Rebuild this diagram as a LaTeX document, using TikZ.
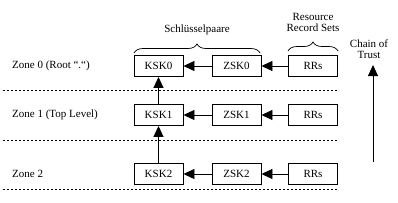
\documentclass[tikz,border=0pt]{standalone}
\usepackage{fontspec}
\setmainfont{Liberation Serif}
\usetikzlibrary{arrows.meta,decorations.pathreplacing}
\begin{document}
\begin{tikzpicture}[x=1pt,y=-1pt,
  keybox/.style={draw,line width=0.9pt,minimum width=49pt,minimum height=21pt,inner sep=0pt,font=\fontsize{11}{12}\selectfont},
  lbl/.style={inner sep=0pt,font=\fontsize{11}{12}\selectfont},
  arr/.style={line width=0.9pt,-{Triangle[length=11pt,width=10pt]}},
  sep/.style={dashed,dash pattern=on 2pt off 2pt,line width=0.7pt},
  brc/.style={decorate,decoration={brace,amplitude=9pt},line width=0.7pt}]
\useasboundingbox (0,0) rectangle (398,202);
% zone labels
\node[lbl,anchor=west] (z0) at (12,66) {Zone 0 (Root “.“)};
\node[lbl,anchor=west] (z1) at (12,115) {Zone 1 (Top Level)};
\node[lbl,anchor=west] (z2) at (12,174) {Zone 2};
% boxes
\node[keybox] (ksk0) at (158.5,66) {KSK0};
\node[keybox] (zsk0) at (236.5,66) {ZSK0};
\node[keybox] (rr0) at (313,66) {RRs};
\node[keybox] (ksk1) at (158.5,115) {KSK1};
\node[keybox] (zsk1) at (236.5,115) {ZSK1};
\node[keybox] (rr1) at (313,115) {RRs};
\node[keybox] (ksk2) at (158.5,174) {KSK2};
\node[keybox] (zsk2) at (236.5,174) {ZSK2};
\node[keybox] (rr2) at (313,174) {RRs};
% horizontal arrows
\foreach \i in {0,1,2} {
  \draw[arr] (rr\i) -- (zsk\i);
  \draw[arr] (zsk\i) -- (ksk\i);
}
% vertical arrows
\draw[arr] (ksk2) -- (ksk1);
\draw[arr] (ksk1) -- (ksk0);
% dashed separators
\coordinate (d0a) at (3,90); \coordinate (d0b) at (338,90);
\coordinate (d1a) at (3,140); \coordinate (d1b) at (338,140);
\coordinate (d2a) at (3,189); \coordinate (d2b) at (338,189);
\draw[sep] (d0a) -- (d0b);
\draw[sep] (d1a) -- (d1b);
\draw[sep] (d2a) -- (d2b);
% braces
\coordinate (b1a) at (134,53); \coordinate (b1b) at (260,53);
\draw[brc] (b1a) -- (b1b);
\node[lbl] (schl) at (197,30) {Schlüsselpaare};
\coordinate (b2a) at (288,51); \coordinate (b2b) at (338,51);
\draw[brc] (b2a) -- (b2b);
\node[lbl,align=center] (rrs) at (313,22) {Resource\\[-1pt]Record Sets};
% chain of trust
\node[lbl,align=center] (cot) at (369,49) {Chain of\\[-1pt]Trust};
\coordinate (cta) at (373,162); \coordinate (ctb) at (373,65);
\draw[arr] (cta) -- (ctb);
\end{tikzpicture}
\end{document}
